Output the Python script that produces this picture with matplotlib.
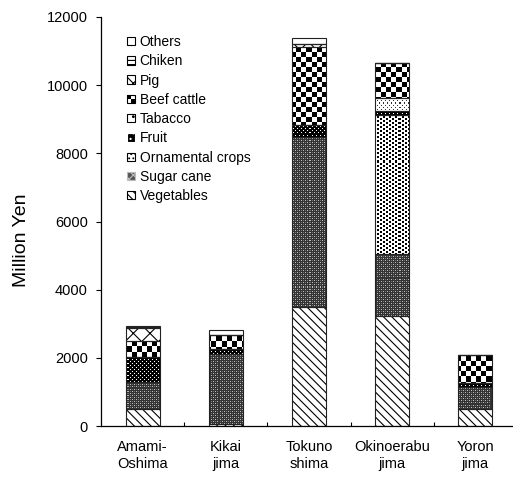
import numpy as np
import matplotlib
matplotlib.use("Agg")
import matplotlib.pyplot as plt
from matplotlib.patches import Patch, Rectangle
from matplotlib.legend_handler import HandlerBase

plt.rcParams['font.family'] = ['Liberation Sans', 'DejaVu Sans']
plt.rcParams['hatch.linewidth'] = 0.8

# Agricultural output by island (million yen)
islands = ["Amami-\nOshima", "Kikai\njima", "Tokuno\nshima", "Okinoerabu\njima", "Yoron\njima"]
vegetables = [500, 60, 3480, 3230, 490]
sugar_cane = [800, 2050, 4990, 1820, 650]
ornamental = [0, 0, 0, 4080, 0]
fruit = [720, 140, 360, 110, 110]
tabacco = [0, 0, 0, 390, 0]
beef_cattle = [480, 420, 2280, 1010, 830]
pig = [370, 0, 100, 0, 0]
chicken = [40, 0, 0, 0, 0]
others = [30, 150, 170, 0, 0]

series = [
    ("Vegetables", vegetables),
    ("Sugar cane", sugar_cane),
    ("Ornamental crops", ornamental),
    ("Fruit", fruit),
    ("Tabacco", tabacco),
    ("Beef cattle", beef_cattle),
    ("Pig", pig),
    ("Chiken", chicken),
    ("Others", others),
]


def tile_checker(n):
    t = np.ones((2 * n, 2 * n))
    t[:n, n:] = 0
    t[n:, :n] = 0
    return t


def tile_ornamental():
    t = np.ones((4, 6))
    t[0:2, 0:2] = 0
    t[2:4, 3:5] = 0
    return t


def tile_tabacco():
    t = np.ones((4, 4))
    t[0, 0] = 0.2
    t[2, 2] = 0.2
    return t


def tile_fruit():
    t = np.zeros((4, 4))
    t[0, 0] = 1
    t[2, 2] = 1
    return t


def tile_sugar():
    t = np.full((4, 4), 0.2)
    t[0, 0] = t[2, 2] = 0.75
    t[0, 2] = t[2, 0] = 0.45
    return t


# fill styles: either a hatch on a plain face, or a pixel texture tile
styles = {
    "Vegetables": dict(facecolor="white", edgecolor="black", hatch="\\\\\\\\"),
    "Sugar cane": dict(tile=tile_sugar(), facecolor="#555555", edgecolor="#bbbbbb", hatch="xxxx"),
    "Ornamental crops": dict(tile=tile_ornamental(), facecolor="white", edgecolor="black", hatch="...."),
    "Fruit": dict(tile=tile_fruit(), facecolor="black", edgecolor="white", hatch="..."),
    "Tabacco": dict(tile=tile_tabacco(), facecolor="white", edgecolor="black", hatch=".."),
    "Beef cattle": dict(tile=tile_checker(5), facecolor="white", edgecolor="black", hatch=None),
    "Pig": dict(facecolor="white", edgecolor="black", hatch="xx"),
    "Chiken": dict(facecolor="white", edgecolor="black", hatch="----"),
    "Others": dict(facecolor="white", edgecolor="black", hatch=None),
}

W, H, DPI = 513, 479, 100
AX_W, AX_H = 416, 409
fig = plt.figure(figsize=(W / DPI, H / DPI), dpi=DPI)
ax = fig.add_axes([101 / W, (H - 426) / H, AX_W / W, AX_H / H])

x = np.arange(len(islands))
width = 0.41
bottom = np.zeros(len(islands))
for name, vals in series:
    vals = np.array(vals, dtype=float)
    st = styles[name]
    if "tile" in st:
        bars = ax.bar(x, vals, width, bottom=bottom, facecolor="none", linewidth=0, zorder=2)
        reps = (AX_H // st["tile"].shape[0] + 1, AX_W // st["tile"].shape[1] + 1)
        tex = np.tile(st["tile"], reps)[:AX_H, :AX_W]
        for b, v in zip(bars, vals):
            if v <= 0:
                continue
            im = ax.imshow(tex, cmap="gray", vmin=0, vmax=1, extent=(0, 1, 0, 1),
                           transform=ax.transAxes, aspect="auto",
                           interpolation="nearest", zorder=3)
            im.set_clip_path(b)
    else:
        ax.bar(x, vals, width, bottom=bottom, facecolor=st["facecolor"],
               edgecolor=st["edgecolor"], hatch=st["hatch"], linewidth=0, zorder=2)
    # outline of each segment
    ax.bar(x, vals, width, bottom=bottom, fill=False, edgecolor="#222222",
           linewidth=0.8, zorder=4)
    bottom += vals

ax.set_xlim(-0.5, len(islands) - 0.5)
ax.set_ylim(0, 12000)
ax.set_yticks(np.arange(0, 12001, 2000))
ax.set_xticks(x)
ax.set_xticklabels(islands, fontsize=10.5, linespacing=1.25)
ax.set_xticks(np.arange(0.5, len(islands) - 0.5, 1), minor=True)
ax.tick_params(axis="x", which="major", length=0, pad=10)
ax.tick_params(axis="x", which="minor", direction="in", length=3, width=0.8)
ax.tick_params(axis="y", length=3.5, width=0.8, labelsize=10.5, pad=6)

for s in ["top", "right"]:
    ax.spines[s].set_visible(False)
for s in ["left", "bottom"]:
    ax.spines[s].set_linewidth(0.9)

ax.set_ylabel("Million Yen", fontsize=14)
ax.yaxis.set_label_coords(-0.17, 0.455)


class CheckerHandler(HandlerBase):
    def create_artists(self, legend, orig_handle, xdescent, ydescent, width, height,
                       fontsize, trans):
        x0, y0 = -xdescent, -ydescent
        arts = [Rectangle((x0, y0), width, height, facecolor="white",
                          edgecolor="black", linewidth=0.8, transform=trans)]
        for i in range(2):
            for j in range(2):
                if (i + j) % 2 == 1:
                    arts.append(Rectangle((x0 + i * width / 2, y0 + j * height / 2),
                                          width / 2, height / 2, facecolor="black",
                                          edgecolor="none", transform=trans))
        return arts


handles, labels, hmap = [], [], {}
for name, _ in reversed(series):
    st = styles[name]
    h = Patch(facecolor=st["facecolor"], edgecolor=st["edgecolor"],
              hatch=st["hatch"], linewidth=0.8)
    if name == "Beef cattle":
        hmap[h] = CheckerHandler()
    handles.append(h)
    labels.append(name)

leg = ax.legend(handles, labels, loc="upper left", bbox_to_anchor=(127 / W, 1 - 35 / H),
                bbox_transform=fig.transFigure, frameon=False, fontsize=10,
                handlelength=0.55, handleheight=0.55, handletextpad=0.35,
                labelspacing=0.38, borderpad=0, borderaxespad=0, handler_map=hmap)

fig.savefig("out.png", dpi=DPI)
